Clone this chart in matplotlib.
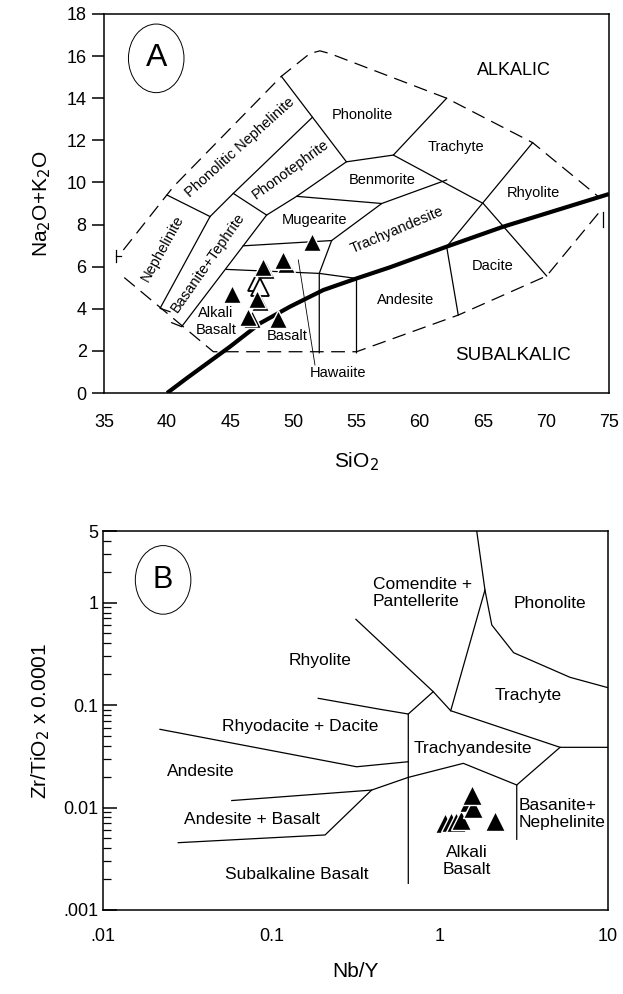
import matplotlib
matplotlib.use("Agg")
import matplotlib.pyplot as plt
from matplotlib.patches import Ellipse
from matplotlib.ticker import FixedLocator, NullFormatter

plt.rcParams['font.family'] = ['Liberation Sans', 'DejaVu Sans']

# ---------------- data: panel A (TAS) ----------------
sio2 = [45.11, 46.43, 47.14, 47.57, 48.8, 49.15, 51.45]
alk = [4.7, 3.62, 4.48, 5.99, 3.53, 6.34, 7.18]
# samples that sit behind / overlap others
sio2_back = [46.7, 47.35, 49.45, 47.8]
alk_back = [3.5, 4.3, 6.15, 5.85]
sio2_open = [47.1, 47.35]
alk_open = [5.25, 5.05]

# field boundaries (SiO2, Na2O+K2O)
tas_lines = [
    [(40.0, 0.0), (41.55, 0.7), (44.98, 2.2), (47.36, 3.31), (49.73, 4.1), (52.37, 4.89),
     (55.0, 5.44), (57.65, 5.97), (62.14, 6.95), (66.63, 7.9), (75.0, 9.45)],
]
tas_thin = [
    [(49.05, 15.04), (54.2, 10.98), (57.92, 11.3), (62.14, 14.0)],
    [(51.5, 13.09), (45.24, 9.48), (43.4, 8.38), (39.44, 4.02), (40.23, 3.86)],
    [(40.0, 9.4), (43.4, 8.38)],
    [(45.24, 9.48), (47.88, 8.45), (50.26, 9.34), (54.2, 10.98)],
    [(47.88, 8.45), (41.15, 3.15), (40.36, 3.34)],
    [(50.26, 9.34), (57.0, 9.0), (53.03, 7.24), (52.05, 5.68), (52.05, 1.91)],
    [(46.03, 6.99), (53.03, 7.24)],
    [(44.7, 5.87), (52.05, 5.68), (55.0, 5.44), (55.0, 1.91)],
    [(57.92, 11.3), (65.04, 9.0), (70.06, 5.56)],
    [(57.0, 9.0), (62.14, 10.12)],
    [(68.95, 11.89), (62.14, 6.95), (63.06, 3.7)],
    [(74.55, 8.61), (74.55, 7.9)],
    [(35.95, 6.8), (35.95, 6.2)],
    [(35.95, 6.5), (36.35, 6.5)],
]
tas_dashed = [
    [(36.53, 6.79), (40.5, 9.8), (49.05, 15.04), (51.3, 16.12), (52.1, 16.25), (52.9, 16.12),
     (62.14, 14.0), (68.95, 11.89), (74.15, 9.33)],
    [(74.15, 8.53), (70.06, 5.56), (63.06, 3.7), (55.0, 1.96), (43.66, 1.96), (36.53, 5.52)],
]
hawaiite_leader = [(50.39, 6.32), (51.71, 1.33)]

tas_labels = [
    ("Phonolite", 55.5, 13.2, 0),
    ("Trachyte", 62.9, 11.7, 0),
    ("Benmorite", 57.0, 10.1, 0),
    ("Rhyolite", 69.0, 9.5, 0),
    ("Mugearite", 51.7, 8.2, 0),
    ("Trachyandesite", 58.2, 7.75, 23),
    ("Dacite", 65.8, 6.05, 0),
    ("Andesite", 58.85, 4.4, 0),
    ("Alkali\nBasalt", 43.85, 3.4, 0),
    ("Basalt", 49.5, 2.7, 0),
    ("Hawaiite", 53.55, 0.93, 0),
    ("Phonolitic Nephelinite", 45.8, 11.65, 42),
    ("Phonotephrite", 49.75, 10.6, 36),
    ("Nephelinite", 39.65, 6.87, 61),
    ("Basanite+Tephrite", 43.25, 6.2, 55),
]

# ---------------- data: panel B (Winchester & Floyd) ----------------
nby = [1.08, 1.17, 1.25, 1.33, 1.5, 1.58, 1.55, 2.13]
zrti = [0.0071, 0.0072, 0.0073, 0.0075, 0.0112, 0.0098, 0.01325, 0.0074]

wf_lines = [
    [(1.66, 5.0), (1.858, 1.327), (2.04, 0.605), (2.75, 0.3245), (5.95, 0.1866), (10.0, 0.1478)],
    [(1.858, 1.327), (1.163, 0.0881)],
    [(0.318, 0.687), (0.916, 0.1351), (1.163, 0.0881), (5.19, 0.0387), (10.0, 0.0387)],
    [(0.916, 0.1351), (0.651, 0.0818)],
    [(0.190, 0.1164), (0.442, 0.0910), (0.651, 0.0818), (0.651, 0.00182)],
    [(5.19, 0.0387), (2.87, 0.0166), (2.87, 0.0049)],
    [(0.0218, 0.0580), (0.321, 0.0250), (0.651, 0.0280)],
    [(0.0582, 0.0117), (0.394, 0.0148), (0.651, 0.0197), (1.382, 0.0270), (2.87, 0.0166)],
    [(0.0280, 0.00454), (0.2086, 0.0054), (0.394, 0.0148)],
]
wf_labels = [
    ("Comendite +\nPantellerite", 0.40, 1.24, 'left'),
    ("Phonolite", 4.5, 0.98, 'center'),
    ("Rhyolite", 0.195, 0.275, 'center'),
    ("Trachyte", 3.36, 0.125, 'center'),
    ("Rhyodacite + Dacite", 0.148, 0.0615, 'center'),
    ("Trachyandesite", 1.58, 0.038, 'center'),
    ("Andesite", 0.038, 0.0224, 'center'),
    ("Andesite + Basalt", 0.0763, 0.0077, 'center'),
    ("Basanite+\nNephelinite", 2.93, 0.0086, 'left'),
    ("Alkali\nBasalt", 1.45, 0.0030, 'center'),
    ("Subalkaline Basalt", 0.142, 0.0022, 'center'),
]

fig = plt.figure(figsize=(6.23, 9.94), dpi=100)

# ---------------- panel A ----------------
ax1 = fig.add_axes([104 / 623, 1 - 393 / 994, 505 / 623, 379 / 994])
ax1.set_xlim(35, 75)
ax1.set_ylim(0, 18)

for seg in tas_lines:
    xs, ys = zip(*seg)
    ax1.plot(xs, ys, color='black', lw=3.0, solid_capstyle='butt')
for seg in tas_thin:
    xs, ys = zip(*seg)
    ax1.plot(xs, ys, color='black', lw=0.9)
for seg in tas_dashed:
    xs, ys = zip(*seg)
    ax1.plot(xs, ys, color='black', lw=0.9, dashes=(11, 6))
xs, ys = zip(*hawaiite_leader)
ax1.plot(xs, ys, color='black', lw=0.6)

for txt, x, y, rot in tas_labels:
    ax1.text(x, y, txt, fontsize=10.5, rotation=rot, ha='center', va='center',
             rotation_mode='anchor', multialignment='center')
ax1.text(67.5, 15.3, "ALKALIC", fontsize=13, ha='center', va='center')
ax1.text(67.4, 1.8, "SUBALKALIC", fontsize=13.5, ha='center', va='center')

ax1.plot(sio2_back, alk_back, '^', ms=13.5, mfc='black', mec='white', mew=1.0, zorder=4)
ax1.plot(sio2_open, alk_open, '^', ms=13.5, mfc='white', mec='black', mew=1.3, zorder=4)
ax1.plot(sio2, alk, '^', ms=13.5, mfc='black', mec='white', mew=1.0, zorder=5)

ax1.add_patch(Ellipse((0.1034, 0.883), 0.110, 0.181, transform=ax1.transAxes,
                      fill=False, lw=0.7, color='black'))
ax1.text(0.1034, 0.883, "A", transform=ax1.transAxes, fontsize=23,
         ha='center', va='center')

ax1.set_xticks(range(35, 76, 5))
ax1.set_yticks(range(0, 19, 2))
ax1.tick_params(axis='x', length=0, labelsize=13, pad=15)
ax1.tick_params(axis='y', direction='out', length=9, width=1.1, labelsize=13)
for sp in ax1.spines.values():
    sp.set_linewidth(1.1)
ax1.set_xlabel(r"SiO$_2$", fontsize=15, labelpad=14)
ax1.set_ylabel(r"Na$_2$O+K$_2$O", fontsize=15, labelpad=10)

# ---------------- panel B ----------------
ax2 = fig.add_axes([103 / 623, 1 - 910 / 994, 505 / 623, 379 / 994])
ax2.set_xscale('log')
ax2.set_yscale('log')
ax2.set_xlim(0.01, 10)
ax2.set_ylim(0.001, 5)

for seg in wf_lines:
    xs, ys = zip(*seg)
    ax2.plot(xs, ys, color='black', lw=0.9)

for txt, x, y, ha in wf_labels:
    ax2.text(x, y, txt, fontsize=12.5, ha=ha, va='center', multialignment=ha)

ax2.plot(nby, zrti, '^', ms=14.5, mfc='black', mec='white', mew=1.0, zorder=5)

ax2.add_patch(Ellipse((0.119, 0.871), 0.110, 0.181, transform=ax2.transAxes,
                      fill=False, lw=0.7, color='black'))
ax2.text(0.119, 0.871, "B", transform=ax2.transAxes, fontsize=22,
         ha='center', va='center')

xtick_vals = [0.01, 0.1, 1, 10]
xtick_txt = [".01", "0.1", "1", "10"]
ytick_vals = [0.001, 0.01, 0.1, 1, 5]
ytick_txt = [".001", "0.01", "0.1", "1", "5"]
ax2.xaxis.set_major_locator(FixedLocator(xtick_vals))
ax2.set_xticklabels(xtick_txt)
ax2.xaxis.set_minor_locator(FixedLocator([]))
ax2.yaxis.set_major_locator(FixedLocator(ytick_vals))
ax2.set_yticklabels(ytick_txt)
ax2.yaxis.set_minor_locator(FixedLocator(
    [m * 10.0 ** e for e in (-3, -2, -1, 0) for m in range(2, 10) if m * 10.0 ** e < 5]))
ax2.yaxis.set_minor_formatter(NullFormatter())
ax2.tick_params(axis='x', which='both', length=0, labelsize=13, pad=13)
ax2.tick_params(axis='y', which='major', direction='in', length=10, width=1.1, labelsize=13)
ax2.tick_params(axis='y', which='minor', direction='in', length=6, width=0.9)
for sp in ax2.spines.values():
    sp.set_linewidth(1.1)
ax2.set_xlabel("Nb/Y", fontsize=15, labelpad=12)
ax2.set_ylabel(r"Zr/TiO$_2$ x 0.0001", fontsize=15, labelpad=8)

fig.savefig("out.png", dpi=100)
